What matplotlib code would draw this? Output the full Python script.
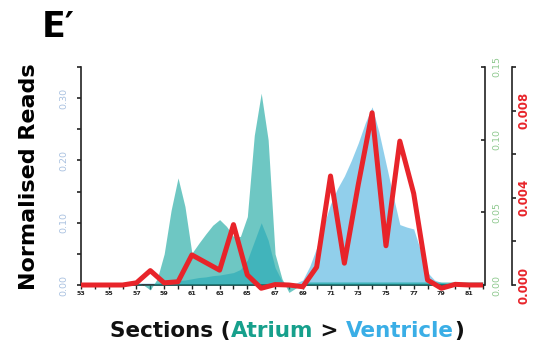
import numpy as np
import matplotlib
matplotlib.use("Agg")
import matplotlib.pyplot as plt
from matplotlib.ticker import MultipleLocator, FixedLocator
from matplotlib.offsetbox import TextArea, HPacker, AnchoredOffsetbox

# sezioni (asse x)
sections = np.arange(53, 83)              # punti della linea rossa
fill_sections = np.arange(53, 82.5, 0.5)  # punti delle aree

# atrio (asse verde, destra)
atrium = [0.0017, 0.0017, 0.0017, 0.0017, 0.0017, 0.0017, 0.0017, 0.0017, 0.0017,
          0.0, -0.0034, 0.0043,
          0.0214, 0.0514, 0.0737, 0.054,
          0.0219, 0.0287, 0.0351, 0.0411,
          0.045, 0.0403, 0.0334, 0.0334,
          0.0471, 0.1029, 0.132, 0.0999,
          0.0214, 0.0043, -0.0051, -0.0021,
          0.0017,
          0.0021, 0.0021, 0.0021, 0.0021, 0.0021, 0.0021, 0.0021, 0.0021, 0.0021,
          0.0021, 0.0021, 0.0021, 0.0021, 0.0021, 0.0021, 0.0021, 0.0021, 0.0021,
          0.0021, 0.0021, 0.0021, 0.0021, 0.0021, 0.0021, 0.0021, 0.0021]

# ventricolo (asse sinistro)
ventricle = [0.003, 0.003, 0.003, 0.003, 0.003, 0.003, 0.003, 0.003, 0.003, 0.003, 0.003, 0.003,
             0.005, 0.006, 0.007, 0.008, 0.010, 0.012, 0.013, 0.015, 0.016, 0.018,
             0.020, 0.025, 0.040, 0.070, 0.100, 0.072, 0.028, 0.006, 0.002, 0.003,
             0.008, 0.030, 0.060, 0.095, 0.130, 0.155, 0.175, 0.200, 0.228, 0.260,
             0.286, 0.245, 0.195, 0.145, 0.097, 0.093, 0.090, 0.055, 0.020, 0.008,
             0.004, 0.003, 0.003, 0.003, 0.003, 0.003, 0.003]

# linea rossa (asse rosso, esterno)
red_reads = [0.0, 0.0, 0.0, 0.0, 0.0001, 0.00066, 0.0001, 0.00015, 0.00138, 0.00103,
             0.00068, 0.00277, 0.00046, -0.00015, 0.00002, 0.0, -0.00008, 0.00082,
             0.0050, 0.0010, 0.0046, 0.0079, 0.0018, 0.0066, 0.0042, 0.00023,
             -0.00015, 0.00003, 0.0, 0.0]

left_ticks = [0.0, 0.1, 0.2, 0.3]
green_ticks = [0.0, 0.05, 0.10, 0.15]
red_ticks = [0.0, 0.004, 0.008]
x_labels = list(range(53, 82, 2))

W, H = 535, 347
fig = plt.figure(figsize=(W / 100, H / 100), dpi=100)

# area assi: 0 a y=285 px, cima a y=67 px
bottom_px, top_px, zero_px = 300, 67, 285
ax = fig.add_axes([81 / W, 1 - bottom_px / H, 402 / W, (bottom_px - top_px) / H])
span = zero_px - top_px
ext = bottom_px - zero_px
ax.set_xlim(53, 82)
ax.set_ylim(-0.35 * ext / span, 0.35)

ax_g = ax.twinx()
ax_g.set_ylim(-0.15 * ext / span, 0.15)
ax_r = ax.twinx()
ax_r.set_ylim(-0.010 * ext / span, 0.010)

# aree
ax.fill_between(fill_sections, 0, ventricle, color="#25a1d9", alpha=0.5, lw=0)
ax_g.fill_between(fill_sections, 0, atrium, color="#0da39b", alpha=0.6, lw=0)
ax_r.plot(sections, red_reads, color="#e8242a", lw=3.6, clip_on=False,
          solid_capstyle="butt")

# asse sinistro
for s in ["top", "right"]:
    ax.spines[s].set_visible(False)
ax.spines["left"].set_bounds(0, 0.35)
ax.spines["bottom"].set_position(("data", 0))
ax.spines["bottom"].set_bounds(53, 82)
for s in ["left", "bottom"]:
    ax.spines[s].set_linewidth(1.2)
    ax.spines[s].set_color("#222222")

ax.yaxis.set_major_locator(FixedLocator(left_ticks))
ax.yaxis.set_minor_locator(FixedLocator([0.05, 0.15, 0.25, 0.35]))
ax.tick_params(axis="y", which="both", direction="out", length=3, width=1.2,
               colors="#222222", labelcolor="#a9c1e0", labelsize=6.8,
               labelrotation=90, pad=6)
ax.set_yticklabels([f"{v:.2f}" for v in left_ticks], va="center")

ax.xaxis.set_major_locator(FixedLocator(x_labels))
ax.xaxis.set_minor_locator(MultipleLocator(1))
ax.set_xticklabels([str(v) for v in x_labels], fontsize=4.5, fontweight="bold")
ax.tick_params(axis="x", which="both", direction="out", length=3, width=1,
               colors="#222222", pad=1.5)

# asse verde
for s in ["top", "left", "bottom"]:
    ax_g.spines[s].set_visible(False)
ax_g.spines["right"].set_position(("outward", 1.5))
ax_g.spines["right"].set_bounds(0, 0.15)
ax_g.spines["right"].set_linewidth(1.2)
ax_g.spines["right"].set_color("#222222")
ax_g.yaxis.set_major_locator(FixedLocator(green_ticks))
ax_g.tick_params(axis="y", direction="in", length=3, width=1.2, colors="#222222",
                 labelcolor="#8fc98f", labelsize=6.8, labelrotation=90, pad=5)
ax_g.set_yticklabels([f"{v:.2f}" for v in green_ticks], va="center")

# asse rosso
for s in ["top", "left", "bottom"]:
    ax_r.spines[s].set_visible(False)
ax_r.spines["right"].set_position(("outward", 21))
ax_r.spines["right"].set_bounds(0, 0.010)
ax_r.spines["right"].set_linewidth(1.2)
ax_r.spines["right"].set_color("#222222")
ax_r.yaxis.set_major_locator(FixedLocator(red_ticks))
ax_r.yaxis.set_minor_locator(FixedLocator([0.002, 0.006, 0.010]))
ax_r.tick_params(axis="y", which="both", direction="out", length=3, width=1.2,
                 colors="#222222", labelcolor="#e8242a", labelsize=8.5,
                 labelrotation=90, pad=1)
ax_r.set_yticklabels([f"{v:.3f}" for v in red_ticks], va="center",
                     fontweight="bold")

# titoli
fig.text(42 / W, 1 - 37 / H, "E\u2032", fontsize=25, fontweight="bold",
         family="DejaVu Sans", va="baseline", ha="left")
fig.text(29 / W, 1 - 177 / H, "Normalised Reads", rotation=90, fontsize=16,
         fontweight="bold", family="DejaVu Sans", ha="center", va="center")

props = dict(fontsize=15.5, fontweight="bold", family="DejaVu Sans")
parts = [("Sections (", "#111111"), ("Atrium", "#17a08c"), (" > ", "#111111"),
         ("Ventricle", "#3aaee6"), (")", "#111111")]
boxes = [TextArea(t, textprops=dict(color=c, **props)) for t, c in parts]
packer = HPacker(children=boxes, align="baseline", pad=0, sep=0)
anchored = AnchoredOffsetbox(loc="center", child=packer, frameon=False, pad=0,
                             borderpad=0, bbox_to_anchor=(287 / W, 1 - 331 / H),
                             bbox_transform=fig.transFigure)
fig.add_artist(anchored)

fig.savefig("out.png", dpi=100)
